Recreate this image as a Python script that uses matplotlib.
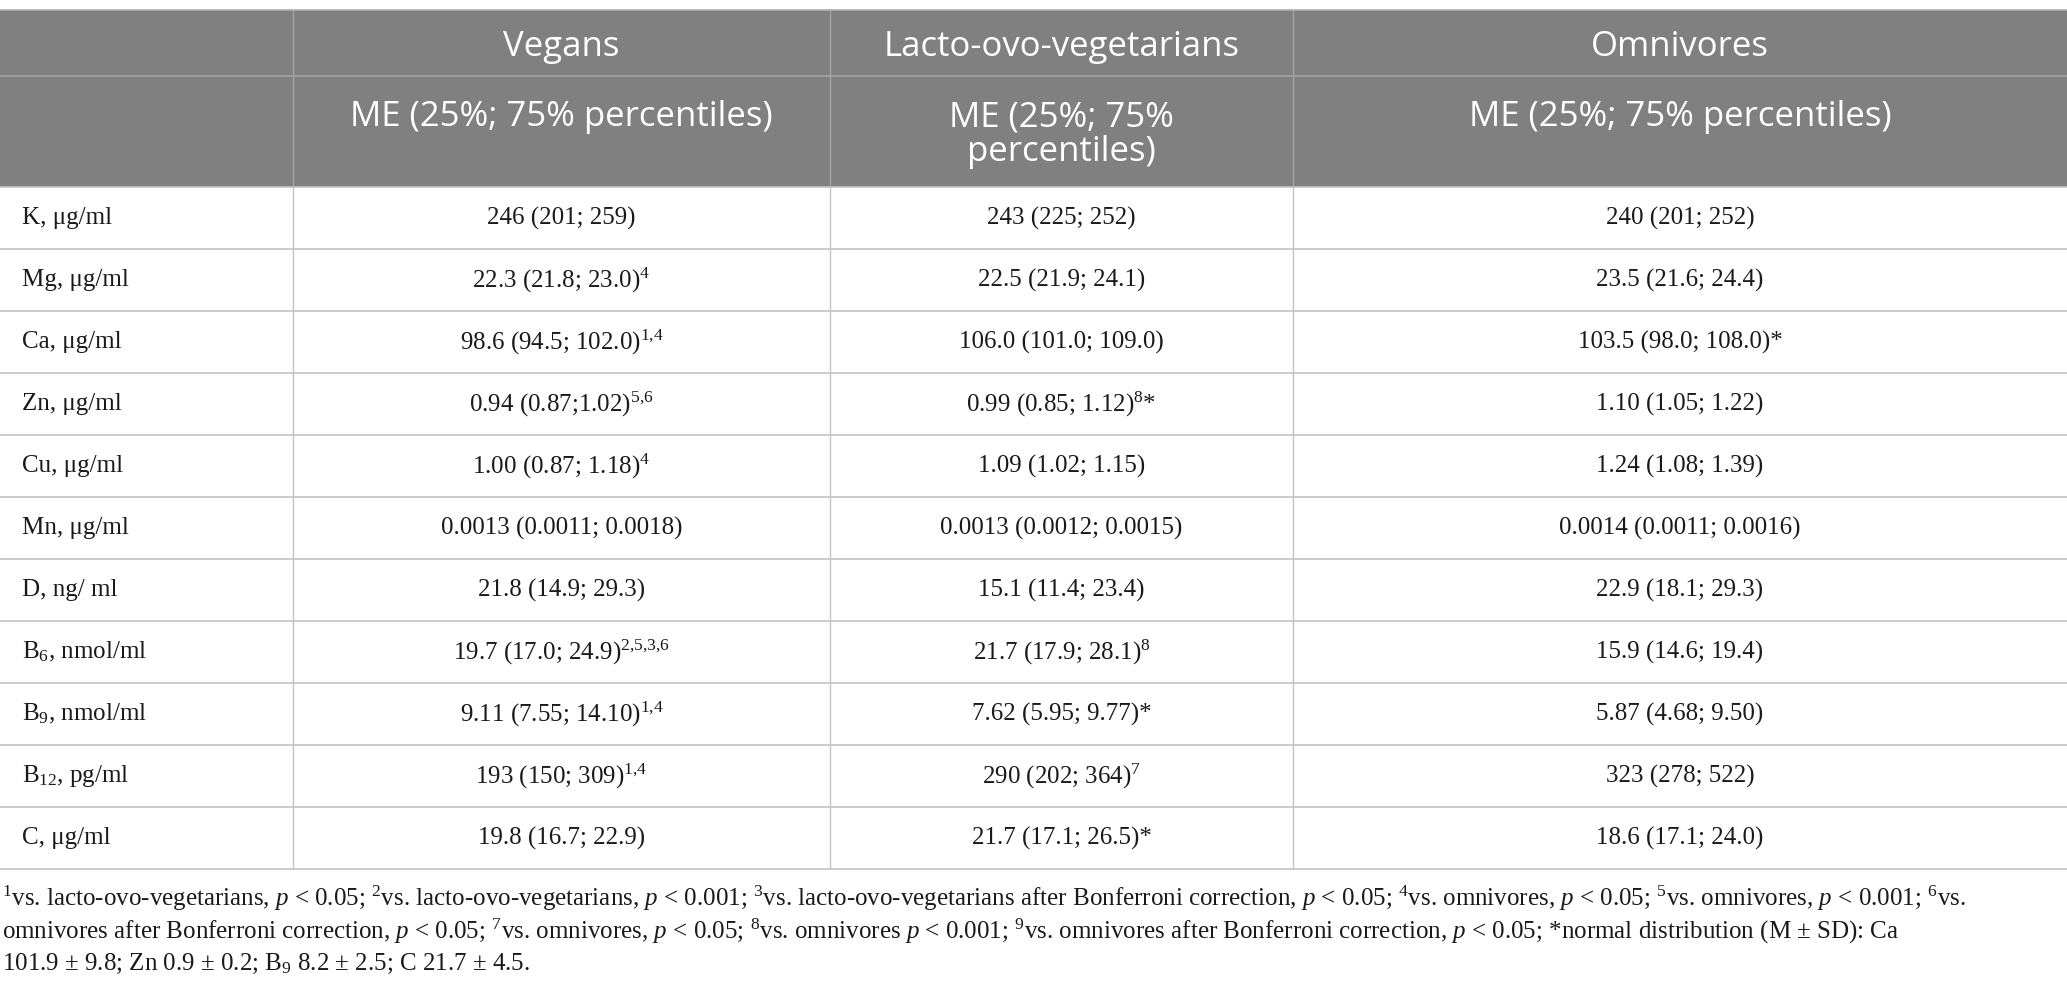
import matplotlib
matplotlib.use("Agg")
import matplotlib.pyplot as plt
from matplotlib.patches import Rectangle

plt.rcParams['mathtext.fontset'] = 'custom'
plt.rcParams['mathtext.rm'] = 'Liberation Serif'
plt.rcParams['mathtext.it'] = 'Liberation Serif:italic'

# table content
groups = ["Vegans", "Lacto-ovo-vegetarians", "Omnivores"]
subheads = [["ME (25%; 75% percentiles)"], ["ME (25%; 75%", "percentiles)"], ["ME (25%; 75% percentiles)"]]
params = ["K, μg/ml", "Mg, μg/ml", "Ca, μg/ml", "Zn, μg/ml", "Cu, μg/ml", "Mn, μg/ml",
          "D, ng/ ml", "B$_{6}$, nmol/ml", "B$_{9}$, nmol/ml", "B$_{12}$, pg/ml", "C, μg/ml"]
vegans = ["246 (201; 259)", "22.3 (21.8; 23.0)$^{4}$", "98.6 (94.5; 102.0)$^{1{,}4}$",
          "0.94 (0.87;1.02)$^{5{,}6}$", "1.00 (0.87; 1.18)$^{4}$", "0.0013 (0.0011; 0.0018)",
          "21.8 (14.9; 29.3)", "19.7 (17.0; 24.9)$^{2{,}5{,}3{,}6}$", "9.11 (7.55; 14.10)$^{1{,}4}$",
          "193 (150; 309)$^{1{,}4}$", "19.8 (16.7; 22.9)"]
lacto = ["243 (225; 252)", "22.5 (21.9; 24.1)", "106.0 (101.0; 109.0)",
         "0.99 (0.85; 1.12)$^{8}$*", "1.09 (1.02; 1.15)", "0.0013 (0.0012; 0.0015)",
         "15.1 (11.4; 23.4)", "21.7 (17.9; 28.1)$^{8}$", "7.62 (5.95; 9.77)*",
         "290 (202; 364)$^{7}$", "21.7 (17.1; 26.5)*"]
omni = ["240 (201; 252)", "23.5 (21.6; 24.4)", "103.5 (98.0; 108.0)*",
        "1.10 (1.05; 1.22)", "1.24 (1.08; 1.39)", "0.0014 (0.0011; 0.0016)",
        "22.9 (18.1; 29.3)", "15.9 (14.6; 19.4)", "5.87 (4.68; 9.50)",
        "323 (278; 522)", "18.6 (17.1; 24.0)"]
footnote = [
    "$^{1}$vs. lacto-ovo-vegetarians, $p$ < 0.05; $^{2}$vs. lacto-ovo-vegetarians, $p$ < 0.001; "
    "$^{3}$vs. lacto-ovo-vegetarians after Bonferroni correction, $p$ < 0.05; $^{4}$vs. omnivores, "
    "$p$ < 0.05; $^{5}$vs. omnivores, $p$ < 0.001; $^{6}$vs.",
    "omnivores after Bonferroni correction, $p$ < 0.05; $^{7}$vs. omnivores, $p$ < 0.05; "
    "$^{8}$vs. omnivores $p$ < 0.001; $^{9}$vs. omnivores after Bonferroni correction, $p$ < 0.05; "
    "*normal distribution (M ± SD): Ca",
    "101.9 ± 9.8; Zn 0.9 ± 0.2; B$_{9}$ 8.2 ± 2.5; C 21.7 ± 4.5.",
]

W, H = 2067, 1000
col_x = [0, 293, 830, 1293, 2067]
top, h1, h2 = 10, 76, 187
row_h = 62

fig = plt.figure(figsize=(W / 100, H / 100), dpi=100)
ax = fig.add_axes([0, 0, 1, 1])
ax.set_xlim(0, W)
ax.set_ylim(H, 0)
ax.axis('off')

head_col = '#808080'
head_line = '#a3a3a3'
grid_col = '#c4c4c4'
txt_col = '#1a1a1a'

# header block
ax.add_patch(Rectangle((0, top), W, h2 - top, facecolor=head_col, edgecolor='none'))
ax.hlines([h1], 0, W, color=head_line, lw=1.2)
ax.vlines(col_x[1:-1], top, h2, color=head_line, lw=1.0)
ax.hlines([top], 0, W, color='#b0b0b0', lw=1.2)

hfont = dict(family='Open Sans', color='white', fontsize=25)
for i, g in enumerate(groups):
    cx = (col_x[i + 1] + col_x[i + 2]) / 2
    ax.text(cx, (top + h1) / 2 + 4, g, ha='center', va='center', **hfont)
    for k, s in enumerate(subheads[i]):
        ax.text(cx, 117 + k * 35, s, ha='center', va='center', **hfont)

# body rows
n = len(params)
bottom = h2 + n * row_h
ax.hlines([h2 + k * row_h for k in range(n + 1)], 0, W, color=grid_col, lw=1.2)
ax.vlines(col_x[1:-1], h2, bottom, color=grid_col, lw=1.0)

bfont = dict(family='Liberation Serif', color=txt_col, fontsize=18)
for r in range(n):
    cy = h2 + (r + 0.5) * row_h
    ax.text(22, cy, params[r], ha='left', va='center', **bfont)
    for c, col in enumerate([vegans, lacto, omni]):
        cx = (col_x[c + 1] + col_x[c + 2]) / 2
        ax.text(cx, cy, col[r], ha='center', va='center', **bfont)

# footnote
for k, line in enumerate(footnote):
    ax.text(2, 898 + k * 33, line, ha='left', va='center',
            family='Liberation Serif', color=txt_col, fontsize=18)

fig.savefig('out.png', dpi=100)
